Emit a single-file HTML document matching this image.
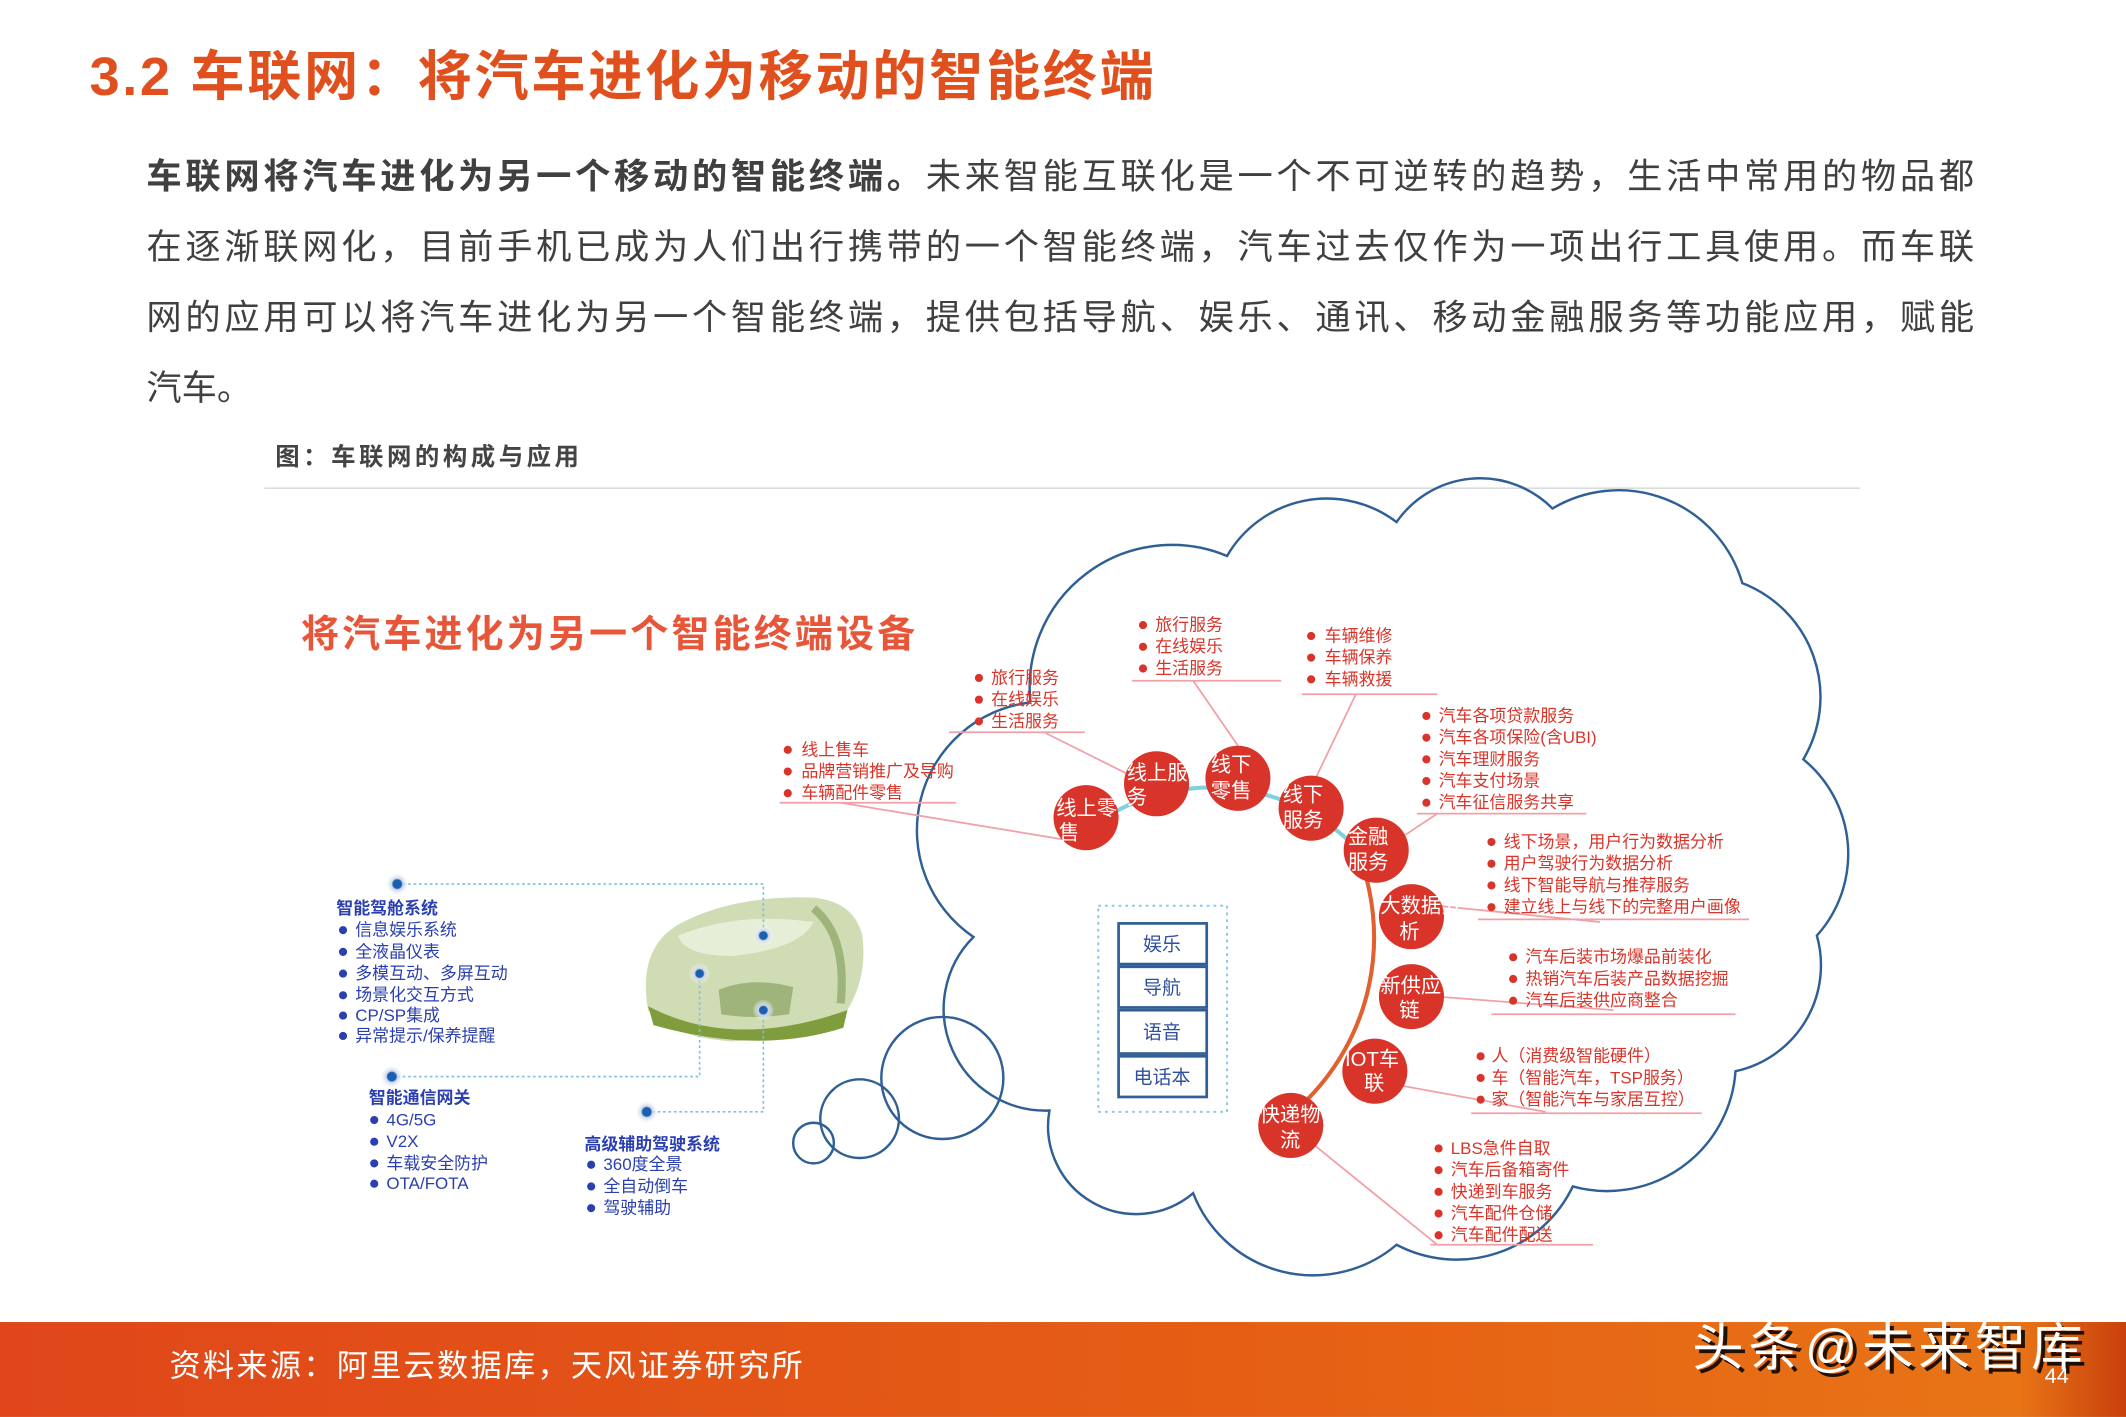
<!DOCTYPE html>
<html><head><meta charset="utf-8"><style>
html,body{margin:0;padding:0;background:#fff;}
svg{display:block;}
text{font-family:"Liberation Sans","Noto Sans CJK SC",sans-serif;}
</style></head><body>
<svg width="2126" height="1417" viewBox="0 0 1568 1045" xmlns="http://www.w3.org/2000/svg">
<defs>
<linearGradient id="ft" x1="0" x2="1" y1="0" y2="0">
<stop offset="0" stop-color="#e0461a"/><stop offset="0.6" stop-color="#e55f14"/><stop offset="0.95" stop-color="#e87416"/><stop offset="1" stop-color="#c8400c"/>
</linearGradient>
<radialGradient id="dot"><stop offset="0.35" stop-color="#1a5fb0"/><stop offset="0.45" stop-color="#c9d3e8"/><stop offset="1" stop-color="#fff" stop-opacity="0"/></radialGradient>
</defs>
<rect width="1568" height="1045" fill="#fff"/>
<text x="66" y="70" font-size="40" font-weight="bold" fill="#e0501e" textLength="785">3.2 车联网：将汽车进化为移动的智能终端</text>
<g font-size="26" fill="#404040">
<text x="108" y="139" textLength="1348"><tspan font-weight="bold">车联网将汽车进化为另一个移动的智能终端。</tspan>未来智能互联化是一个不可逆转的趋势，生活中常用的物品都</text>
<text x="108" y="191" textLength="1348">在逐渐联网化，目前手机已成为人们出行携带的一个智能终端，汽车过去仅作为一项出行工具使用。而车联</text>
<text x="108" y="243" textLength="1348">网的应用可以将汽车进化为另一个智能终端，提供包括导航、娱乐、通讯、移动金融服务等功能应用，赋能</text>
<text x="108" y="295">汽车。</text>
</g>
<text x="203" y="343" font-size="18" font-weight="bold" fill="#444" textLength="224">图：车联网的构成与应用</text>
<line x1="195" y1="360" x2="1372" y2="360" stroke="#d8dde0" stroke-width="1.2"/>

<text x="222" y="477" font-size="28" font-weight="bold" fill="#e8563a" textLength="453">将汽车进化为另一个智能终端设备</text>

<!-- cloud -->
<g fill="none" stroke="#2f5f94" stroke-width="1.8">
<path d="M760,518 A105,105 0 0 1 905,410 A85,85 0 0 1 1030,385 A75,75 0 0 1 1145,375 A95,95 0 0 1 1285,430 A90,90 0 0 1 1330,560 A90,90 0 0 1 1340,690 A80,80 0 0 1 1280,790 A95,95 0 0 1 1160,875 A95,95 0 0 1 1030,918 A95,95 0 0 1 880,880 A65,65 0 0 1 774,819 A75,75 0 0 1 718,691 A95,95 0 0 1 760,518"/>
<circle cx="600" cy="843" r="15"/>
<circle cx="634" cy="825" r="29"/>
<circle cx="695" cy="795" r="45"/>
</g>
<!-- inner arc -->
<path d="M820,600 A150,150 0 0 1 1000,625" fill="none" stroke="#7fd0e0" stroke-width="3"/>
<path d="M1000,625 A170,170 0 0 1 960,815" fill="none" stroke="#e06030" stroke-width="3"/>

<!-- connectors -->
<g stroke="#f1a0a8" stroke-width="1.3" fill="none">
<path d="M575,592 H705 M620,592 L790,620"/>
<path d="M700,540 H800 M770,540 L840,575"/>
<path d="M835,502 H945 M880,502 L920,560"/>
<path d="M960,512 H1060 M1000,512 L965,585"/>
<path d="M1045,600 H1170 M1060,600 L1030,620"/>
<path d="M1090,678 H1290 M1180,680 L1060,668"/>
<path d="M1100,748 H1280 M1190,745 L1060,735"/>
<path d="M1085,821 H1255 M1140,820 L1030,800"/>
<path d="M1055,918 H1175 M1060,918 L970,845"/>
</g>

<!-- red circles -->
<g fill="#d9342a">
<circle cx="801" cy="603" r="24"/><circle cx="853" cy="578" r="24"/><circle cx="913" cy="574" r="24"/>
<circle cx="967" cy="596" r="24"/><circle cx="1015" cy="627" r="24"/><circle cx="1041" cy="676" r="24"/>
<circle cx="1041" cy="735" r="24"/><circle cx="1014" cy="790" r="24"/><circle cx="952" cy="830" r="24"/>
</g>
<g fill="#fff" font-size="15">
<text x="779" y="601">线上零</text><text x="781" y="619">售</text>
<text x="831" y="575">线上服</text><text x="831" y="593">务</text>
<text x="893" y="569">线下</text><text x="893" y="588">零售</text>
<text x="946" y="591">线下</text><text x="946" y="610">服务</text>
<text x="994" y="622">金融</text><text x="994" y="641">服务</text>
<text x="1018" y="673">大数据分</text><text x="1032" y="692">析</text>
<text x="1018" y="732">新供应</text><text x="1032" y="750">链</text>
<text x="992" y="786">IOT车</text><text x="1006" y="804">联</text>
<text x="929" y="827">快递物</text><text x="944" y="846">流</text>
</g>

<!-- center box -->
<rect x="810" y="668" width="95" height="152" fill="none" stroke="#8ec8e0" stroke-width="1.5" stroke-dasharray="2,3"/>
<g fill="#fff" stroke="#2f5f94" stroke-width="2">
<rect x="825" y="681" width="65" height="30"/><rect x="825" y="713" width="65" height="30"/>
<rect x="825" y="745" width="65" height="32"/><rect x="825" y="779" width="65" height="30"/>
</g>
<g font-size="14" fill="#2f4fa0" text-anchor="middle">
<text x="857" y="701">娱乐</text><text x="857" y="733">导航</text><text x="857" y="766">语音</text><text x="857" y="799">电话本</text>
</g>

<!-- red lists -->
<g font-size="12.5" fill="#d9342a">
<g><circle cx="722" cy="500" r="3"/><circle cx="722" cy="516" r="3"/><circle cx="722" cy="532" r="3"/>
<text x="731" y="504">旅行服务</text><text x="731" y="520">在线娱乐</text><text x="731" y="536">生活服务</text></g>
<g><circle cx="581" cy="553" r="3"/><circle cx="581" cy="569" r="3"/><circle cx="581" cy="585" r="3"/>
<text x="591" y="557">线上售车</text><text x="591" y="573">品牌营销推广及导购</text><text x="591" y="589">车辆配件零售</text></g>
<g><circle cx="843" cy="461" r="3"/><circle cx="843" cy="477" r="3"/><circle cx="843" cy="493" r="3"/>
<text x="852" y="465">旅行服务</text><text x="852" y="481">在线娱乐</text><text x="852" y="497">生活服务</text></g>
<g><circle cx="967" cy="469" r="3"/><circle cx="967" cy="485" r="3"/><circle cx="967" cy="501" r="3"/>
<text x="977" y="473">车辆维修</text><text x="977" y="489">车辆保养</text><text x="977" y="505">车辆救援</text></g>
<g><circle cx="1052" cy="528" r="3"/><circle cx="1052" cy="544" r="3"/><circle cx="1052" cy="560" r="3"/><circle cx="1052" cy="576" r="3"/><circle cx="1052" cy="592" r="3"/>
<text x="1061" y="532">汽车各项贷款服务</text><text x="1061" y="548">汽车各项保险(含UBI)</text><text x="1061" y="564">汽车理财服务</text><text x="1061" y="580">汽车支付场景</text><text x="1061" y="596">汽车征信服务共享</text></g>
<g><circle cx="1100" cy="621" r="3"/><circle cx="1100" cy="637" r="3"/><circle cx="1100" cy="653" r="3"/><circle cx="1100" cy="669" r="3"/>
<text x="1109" y="625">线下场景，用户行为数据分析</text><text x="1109" y="641">用户驾驶行为数据分析</text><text x="1109" y="657">线下智能导航与推荐服务</text><text x="1109" y="673">建立线上与线下的完整用户画像</text></g>
<g><circle cx="1116" cy="706" r="3"/><circle cx="1116" cy="722" r="3"/><circle cx="1116" cy="738" r="3"/>
<text x="1125" y="710">汽车后装市场爆品前装化</text><text x="1125" y="726">热销汽车后装产品数据挖掘</text><text x="1125" y="742">汽车后装供应商整合</text></g>
<g><circle cx="1092" cy="779" r="3"/><circle cx="1092" cy="795" r="3"/><circle cx="1092" cy="811" r="3"/>
<text x="1100" y="783">人（消费级智能硬件）</text><text x="1100" y="799">车（智能汽车，TSP服务）</text><text x="1100" y="815">家（智能汽车与家居互控）</text></g>
<g><circle cx="1061" cy="847" r="3"/><circle cx="1061" cy="863" r="3"/><circle cx="1061" cy="879" r="3"/><circle cx="1061" cy="895" r="3"/><circle cx="1061" cy="911" r="3"/>
<text x="1070" y="851">LBS急件自取</text><text x="1070" y="867">汽车后备箱寄件</text><text x="1070" y="883">快递到车服务</text><text x="1070" y="899">汽车配件仓储</text><text x="1070" y="915">汽车配件配送</text></g>
</g>

<!-- car -->
<g>
<path d="M478,745 Q470,700 500,682 Q540,660 600,662 Q630,665 636,690 Q640,720 625,745 Q600,765 540,768 Q495,765 478,745Z" fill="#cfdcb4"/>
<path d="M478,742 Q540,775 625,745 L622,758 Q560,778 482,756Z" fill="#7f9d3c"/>
<path d="M500,690 Q545,672 600,680 Q590,700 540,705 Q505,705 500,690Z" fill="#e6eed8"/>
<path d="M530,730 Q555,720 585,728 L582,748 Q555,752 532,748Z" fill="#9fb47a"/>
<path d="M600,670 Q625,690 620,740" fill="none" stroke="#9fb47a" stroke-width="6"/>
</g>
<g fill="none" stroke="#7fc0dc" stroke-width="1.2" stroke-dasharray="2,2">
<path d="M293,652 H563 V690"/><path d="M289,794 H516 V718"/><path d="M477,820 H563 V745"/>
</g>
<g>
<circle cx="293" cy="652" r="9" fill="url(#dot)"/><circle cx="289" cy="794" r="9" fill="url(#dot)"/><circle cx="477" cy="820" r="9" fill="url(#dot)"/>
<circle cx="563" cy="690" r="8" fill="url(#dot)"/><circle cx="516" cy="718" r="8" fill="url(#dot)"/><circle cx="563" cy="745" r="8" fill="url(#dot)"/>
</g>
<g font-size="12.5" fill="#2a3fb0">
<text x="248" y="674" font-weight="bold">智能驾舱系统</text>
<g><circle cx="253" cy="686" r="3"/><circle cx="253" cy="702" r="3"/><circle cx="253" cy="718" r="3"/><circle cx="253" cy="734" r="3"/><circle cx="253" cy="749" r="3"/><circle cx="253" cy="764" r="3"/></g>
<text x="262" y="690">信息娱乐系统</text><text x="262" y="706">全液晶仪表</text><text x="262" y="722">多模互动、多屏互动</text><text x="262" y="738">场景化交互方式</text><text x="262" y="753">CP/SP集成</text><text x="262" y="768">异常提示/保养提醒</text>
<text x="272" y="814" font-weight="bold">智能通信网关</text>
<g><circle cx="276" cy="826" r="3"/><circle cx="276" cy="842" r="3"/><circle cx="276" cy="858" r="3"/><circle cx="276" cy="873" r="3"/></g>
<text x="285" y="830">4G/5G</text><text x="285" y="846">V2X</text><text x="285" y="862">车载安全防护</text><text x="285" y="877">OTA/FOTA</text>
<text x="431" y="848" font-weight="bold">高级辅助驾驶系统</text>
<g><circle cx="436" cy="859" r="3"/><circle cx="436" cy="875" r="3"/><circle cx="436" cy="891" r="3"/></g>
<text x="445" y="863">360度全景</text><text x="445" y="879">全自动倒车</text><text x="445" y="895">驾驶辅助</text>
</g>

<!-- footer -->
<rect x="0" y="975" width="1568" height="70" fill="url(#ft)"/>
<text x="125" y="1015" font-size="23" fill="#fff" textLength="467">资料来源：阿里云数据库，天风证券研究所</text>
<text x="1251" y="1010" font-size="38" fill="#000" opacity="0.85" textLength="288">头条@未来智库</text>
<text x="1248" y="1007" font-size="38" fill="#fff" textLength="288">头条@未来智库</text>
<text x="1508" y="1020" font-size="16" fill="#fff">44</text>
</svg>
</body></html>
